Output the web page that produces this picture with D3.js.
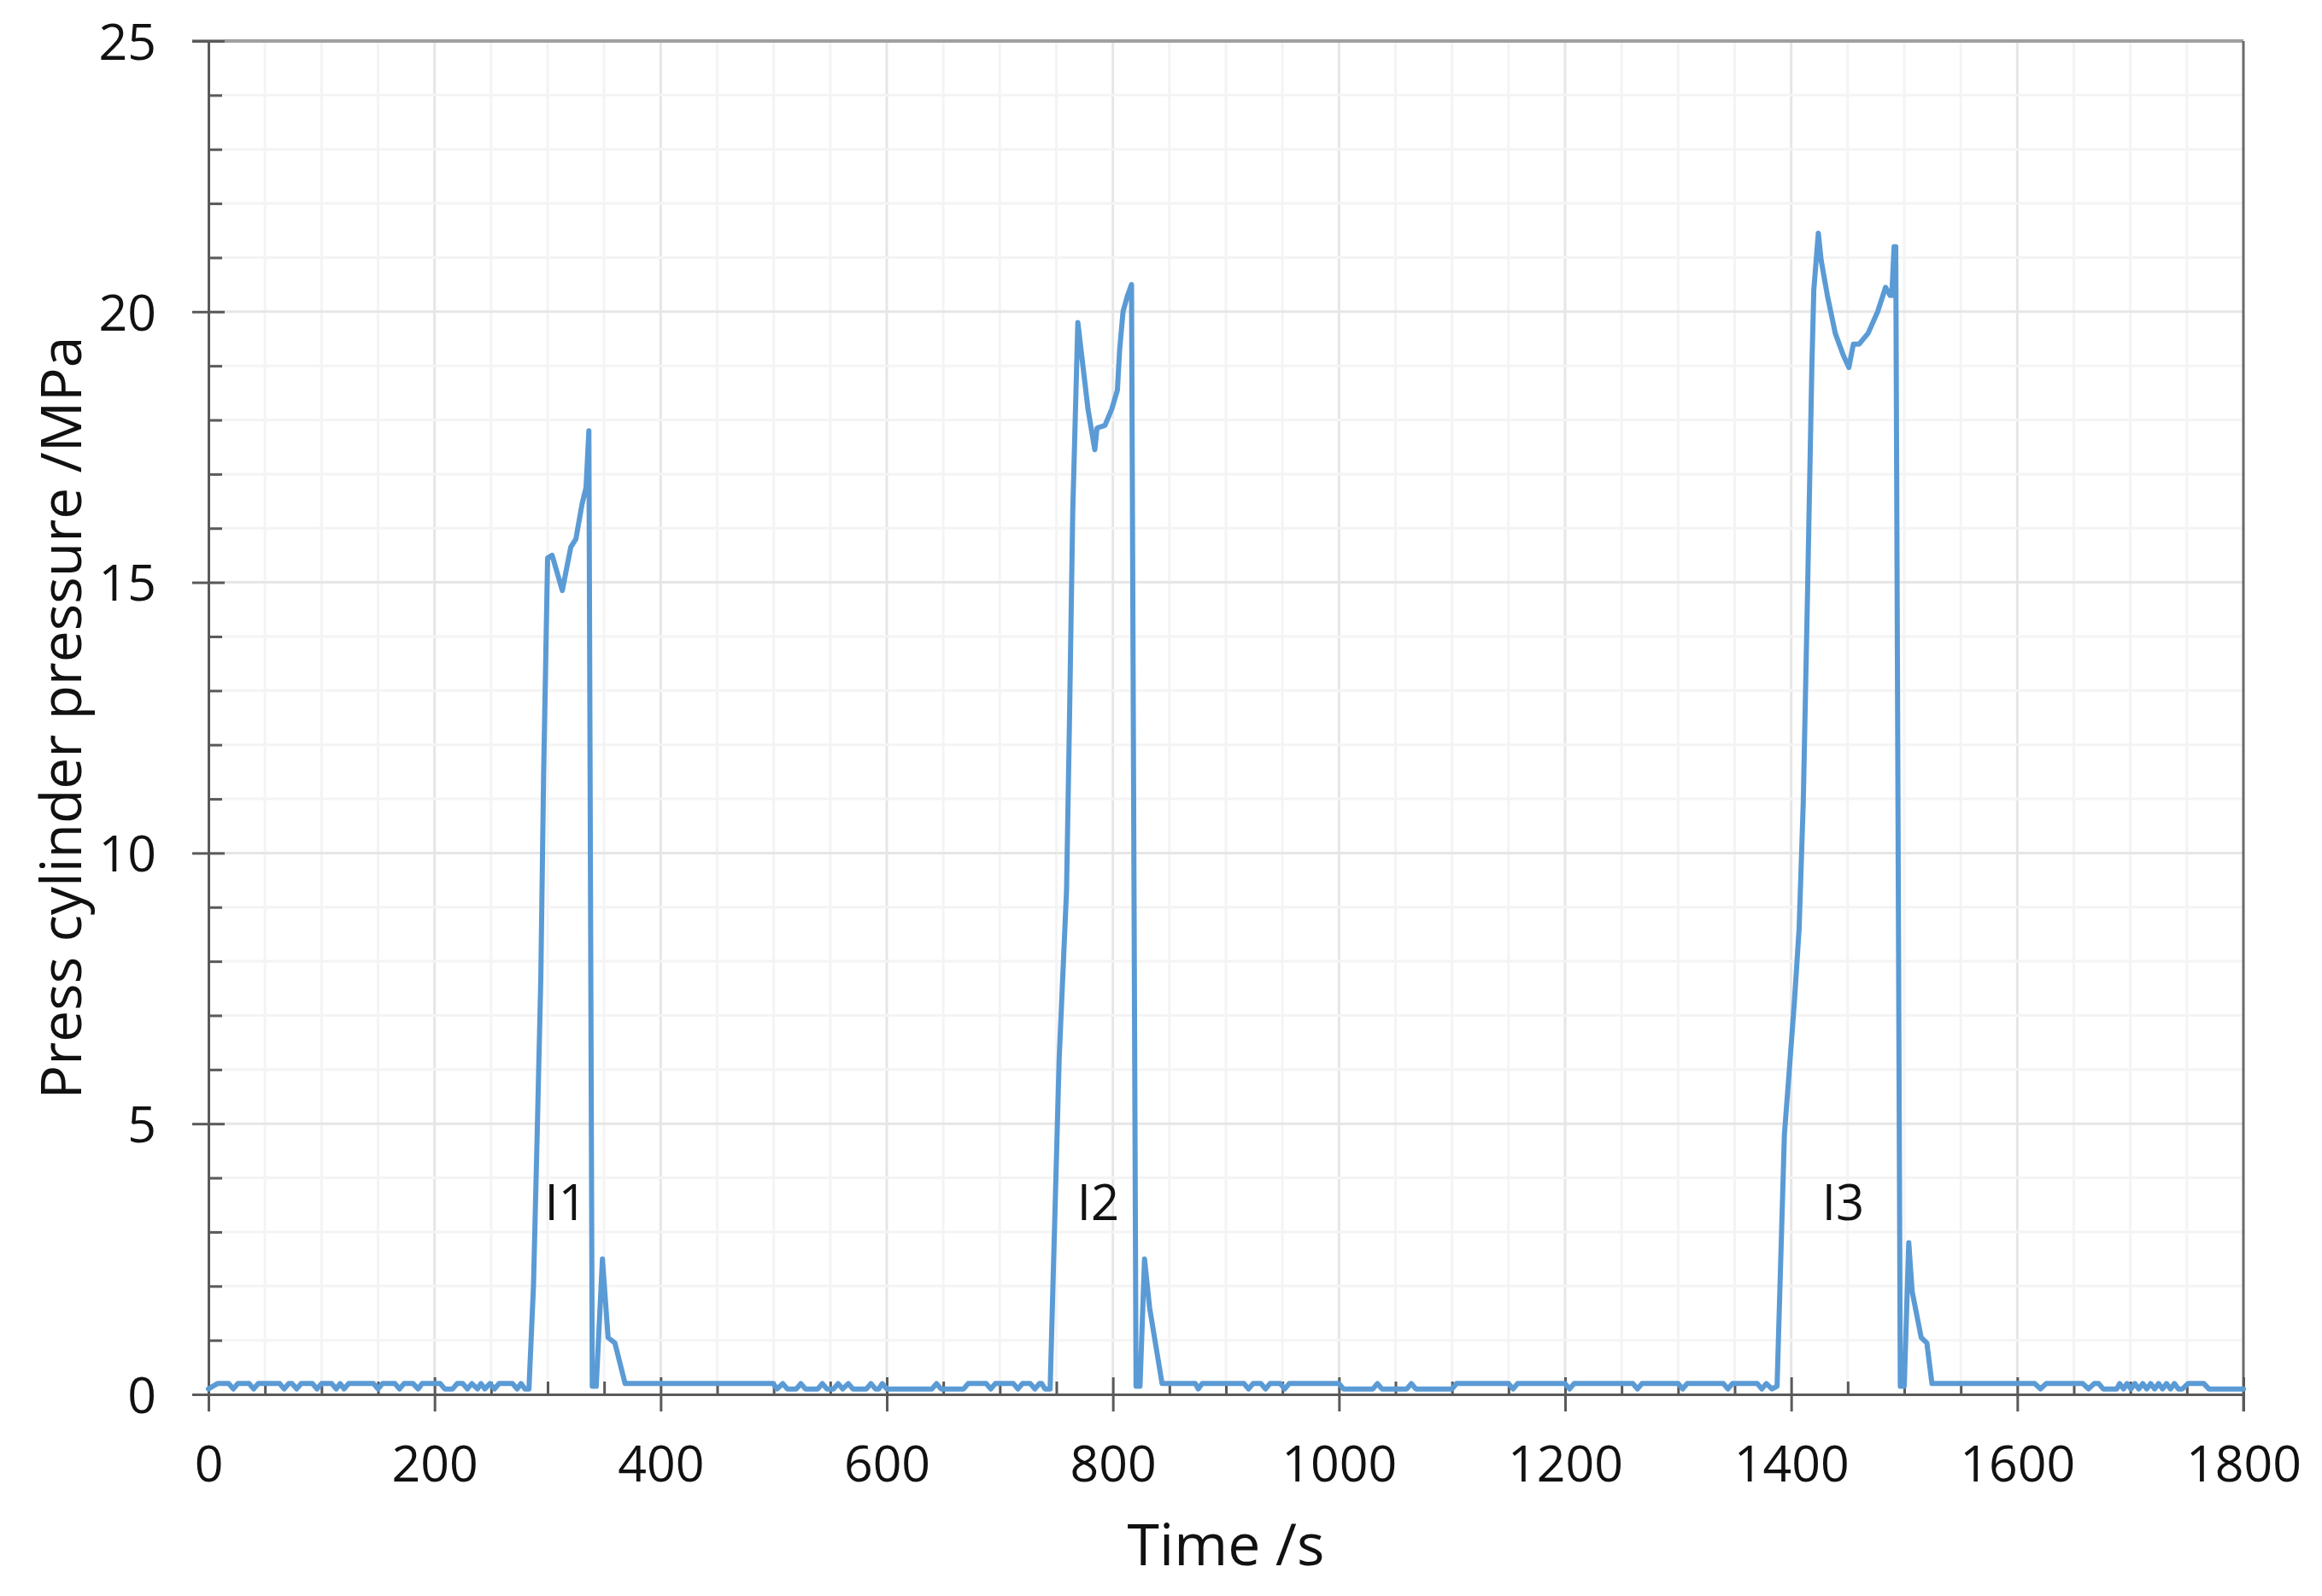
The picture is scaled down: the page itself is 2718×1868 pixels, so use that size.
<!DOCTYPE html>
<html>
<head>
<meta charset="utf-8">
<script src="https://cdn.jsdelivr.net/npm/d3@7"></script>
<style>
  html, body { margin: 0; padding: 0; background: #ffffff; }
  svg text { font-family: "Open Sans", "Noto Sans", sans-serif; fill: #111111; }
</style>
</head>
<body>
<div id="container"></div>
<script>
const WIDTH = 2718;
const HEIGHT = 1868;
const MARGIN = { top: 48, right: 92, bottom: 236, left: 244 };

// tick labels
var xTicks = [0, 200, 400, 600, 800, 1000, 1200, 1400, 1600, 1800];
var yTicks = [0, 5, 10, 15, 20, 25];

// press cylinder pressure [time s, pressure MPa]
var idle0 = [[0, 0.1], [8, 0.2], [18, 0.2], [22, 0.1], [26, 0.2], [36, 0.2], [40, 0.1], [44, 0.2],
    [63, 0.2], [67, 0.1], [71, 0.2], [74, 0.2], [78, 0.1], [82, 0.2], [92, 0.2], [96, 0.1], [100, 0.2],
    [109, 0.2], [113, 0.1], [116.5, 0.2], [120, 0.1], [124, 0.2], [146, 0.2], [150, 0.1], [154, 0.2],
    [165, 0.2], [169, 0.1], [173, 0.2], [181, 0.2], [185.5, 0.1], [189, 0.2], [205, 0.2], [209, 0.1],
    [216, 0.1], [220, 0.2], [225, 0.2], [229, 0.1], [233, 0.2], [238, 0.1], [241, 0.2], [244.5, 0.1],
    [249, 0.2], [253, 0.1], [257, 0.2], [269, 0.2], [273, 0.1], [276.5, 0.2], [280, 0.1], [283.5, 0.1]];
var press1 = [[287.5, 2.0], [291, 5.0], [294, 7.7], [296.5, 11.5], [300, 15.45], [304, 15.5], [313, 14.85],
    [320.5, 15.65], [325, 15.8], [330.5, 16.45], [334, 16.75], [336.5, 17.8], [339.5, 0.15], [343, 0.15],
    [348.5, 2.5], [353.5, 1.05], [359.5, 0.95], [368.5, 0.2]];
var idle1 = [[499.5, 0.2], [503, 0.1], [508, 0.2], [512, 0.1], [520, 0.1], [524, 0.2], [528, 0.1], [539, 0.1],
    [543, 0.2], [547, 0.1], [553, 0.1], [557, 0.2], [561, 0.1], [566, 0.2], [570, 0.1], [582, 0.1], [586, 0.2],
    [590, 0.1], [593, 0.1], [596, 0.2], [600, 0.1], [640, 0.1], [644, 0.2], [648, 0.1], [668, 0.1], [672, 0.2],
    [688, 0.2], [692, 0.1], [696, 0.2], [712, 0.2], [716, 0.1], [720, 0.2], [727, 0.2], [731, 0.1], [735, 0.2],
    [737, 0.2], [740, 0.1], [744.5, 0.1]];
var press2 = [[747.5, 2.4], [752.5, 6.2], [759, 9.3], [761.5, 12.3], [764.5, 16.3], [769, 19.8], [778, 18.2],
    [784, 17.45], [786, 17.85], [793, 17.9], [799, 18.2], [804, 18.55], [806, 19.3], [809, 20.0], [813, 20.3],
    [816.5, 20.5], [820.5, 0.15], [824, 0.15], [828, 2.5], [832.5, 1.6], [843.5, 0.2]];
var idle2 = [[873, 0.2], [875.5, 0.1], [879, 0.2], [916, 0.2], [920, 0.1], [924, 0.2], [931, 0.2], [935, 0.1],
    [939, 0.2], [948, 0.2], [952, 0.1], [956, 0.2], [1000, 0.2], [1004, 0.1], [1030, 0.1], [1034, 0.2],
    [1038, 0.1], [1060, 0.1], [1064, 0.2], [1068, 0.1], [1100, 0.1], [1104, 0.2], [1150, 0.2], [1154, 0.1],
    [1158, 0.2], [1200, 0.2], [1204, 0.1], [1208, 0.2], [1260, 0.2], [1264, 0.1], [1268, 0.2], [1300, 0.2],
    [1304, 0.1], [1308, 0.2], [1340, 0.2], [1344, 0.1], [1348, 0.2], [1370, 0.2], [1374, 0.1], [1378, 0.2],
    [1383, 0.1], [1387.5, 0.15]];
var press3 = [[1390.5, 2.3], [1394, 4.8], [1398, 5.9], [1403, 7.3], [1407, 8.6], [1410.7, 10.95], [1414.5, 14.85],
    [1418.3, 19.0], [1420, 20.4], [1424, 21.45], [1426.5, 20.95], [1432, 20.3], [1439, 19.6], [1446, 19.2],
    [1451, 18.97], [1455, 19.4], [1460, 19.4], [1468, 19.6], [1476.5, 20.0], [1483.5, 20.45], [1487.5, 20.3],
    [1489, 20.3], [1491, 21.2], [1492.5, 21.2], [1496.5, 0.15], [1500, 0.15], [1504, 2.8], [1507, 1.9],
    [1515, 1.05], [1520, 0.95], [1524.5, 0.2]];
var idle3 = [[1615.5, 0.2], [1620.5, 0.1], [1625.5, 0.2], [1658, 0.2], [1663, 0.1], [1668, 0.2], [1672, 0.2],
    [1676, 0.1], [1688, 0.1], [1690.5, 0.2], [1694, 0.1], [1697, 0.2], [1700.5, 0.1], [1704, 0.2], [1707.5, 0.1],
    [1711, 0.2], [1714.5, 0.1], [1718, 0.2], [1721.5, 0.1], [1725, 0.2], [1728.5, 0.1], [1732, 0.2],
    [1735.5, 0.1], [1739, 0.2], [1742.5, 0.1], [1746, 0.1], [1751, 0.2], [1765, 0.2], [1769.5, 0.1], [1800, 0.1]];

// cycle labels
var cycleLabels = ["I1", "I2", "I3"];
var cycleLabelTimes = [316, 787, 1446];
var cycleLabelPressure = 3.55;

var drawChart = function () {
    var svg = d3.select("#container").append("svg")
        .attr("width", WIDTH)
        .attr("height", HEIGHT);

    svg.append("rect").attr("width", WIDTH).attr("height", HEIGHT).attr("fill", "#ffffff");

    var x = d3.scaleLinear().domain([0, 1800]).range([MARGIN.left, WIDTH - MARGIN.right]);
    var y = d3.scaleLinear().domain([0, 25]).range([HEIGHT - MARGIN.bottom, MARGIN.top]);
    var x0 = x(0), x1 = x(1800), y0 = y(0), y1 = y(25);

    // grid
    var grid = svg.append("g");
    d3.range(50, 1800, 50).forEach(function (t) {
        grid.append("line")
            .attr("x1", x(t)).attr("x2", x(t)).attr("y1", y1).attr("y2", y0)
            .attr("stroke", t % 200 === 0 ? "#e6e6e6" : "#f4f4f4")
            .attr("stroke-width", 3);
    });
    d3.range(1, 25, 1).forEach(function (p) {
        grid.append("line")
            .attr("x1", x0).attr("x2", x1).attr("y1", y(p)).attr("y2", y(p))
            .attr("stroke", p % 5 === 0 ? "#e6e6e6" : "#f4f4f4")
            .attr("stroke-width", 3);
    });

    // frame
    svg.append("line").attr("x1", x0 - 19).attr("x2", x1).attr("y1", y1).attr("y2", y1)
        .attr("stroke", "#a0a0a0").attr("stroke-width", 4);
    svg.append("line").attr("x1", x1).attr("x2", x1).attr("y1", y1).attr("y2", y0 + 20)
        .attr("stroke", "#6a6a6a").attr("stroke-width", 3);

    // axes
    svg.append("g")
        .attr("transform", "translate(0," + y0 + ")")
        .call(d3.axisBottom(x).tickValues(xTicks).tickFormat(d3.format("d"))
            .tickSize(20).tickPadding(40).tickSizeOuter(0));
    svg.append("g")
        .attr("transform", "translate(0," + y0 + ")")
        .call(d3.axisTop(x).tickValues(xTicks.slice(1)).tickSize(20).tickFormat("").tickSizeOuter(0));
    svg.append("g")
        .attr("transform", "translate(0," + y0 + ")")
        .call(d3.axisTop(x).tickValues(d3.range(50, 1800, 50).filter(function (t) { return t % 200 !== 0; }))
            .tickSize(15).tickFormat("").tickSizeOuter(0));

    var yAxis = svg.append("g")
        .attr("transform", "translate(" + x0 + ",0)")
        .call(d3.axisLeft(y).tickValues(yTicks).tickSize(19).tickPadding(42).tickSizeOuter(0));
    svg.append("g")
        .attr("transform", "translate(" + x0 + ",0)")
        .call(d3.axisRight(y).tickValues(yTicks.slice(1)).tickSize(19).tickFormat("").tickSizeOuter(0));
    svg.append("g")
        .attr("transform", "translate(" + x0 + ",0)")
        .call(d3.axisRight(y).tickValues(d3.range(1, 25, 1).filter(function (p) { return p % 5 !== 0; }))
            .tickSize(16).tickFormat("").tickSizeOuter(0));

    svg.selectAll(".domain").attr("stroke", "#5a5a5a").attr("stroke-width", 3);
    svg.selectAll(".tick line").attr("stroke", "#5a5a5a").attr("stroke-width", 3);
    svg.selectAll(".tick text")
        .attr("font-family", "Open Sans, Noto Sans, sans-serif")
        .attr("font-size", 59)
        .attr("fill", "#111111");
    yAxis.selectAll(".tick text").attr("dy", "0.36em");

    // series
    var series = [].concat(idle0, press1, idle1, press2, idle2, press3, idle3);
    var line = d3.line()
        .x(function (d) { return x(d[0]); })
        .y(function (d) { return y(d[1]); });
    svg.append("path")
        .datum(series)
        .attr("d", line)
        .attr("fill", "none")
        .attr("stroke", "#5b9bd5")
        .attr("stroke-width", 6)
        .attr("stroke-linejoin", "round")
        .attr("stroke-linecap", "round");

    // cycle labels
    cycleLabels.forEach(function (label, i) {
        svg.append("text")
            .attr("x", x(cycleLabelTimes[i]))
            .attr("y", y(cycleLabelPressure))
            .attr("dy", "0.36em")
            .attr("text-anchor", "middle")
            .attr("font-size", 58)
            .text(label);
    });

    // axis titles
    svg.append("text")
        .attr("x", (x0 + x1) / 2)
        .attr("y", 1832)
        .attr("text-anchor", "middle")
        .attr("font-size", 68)
        .text("Time /s");
    svg.append("text")
        .attr("transform", "translate(95," + (y0 + y1) / 2 + ") rotate(-90)")
        .attr("text-anchor", "middle")
        .attr("font-size", 66)
        .text("Press cylinder pressure /MPa");
};

window.onload = drawChart;
</script>
</body>
</html>
